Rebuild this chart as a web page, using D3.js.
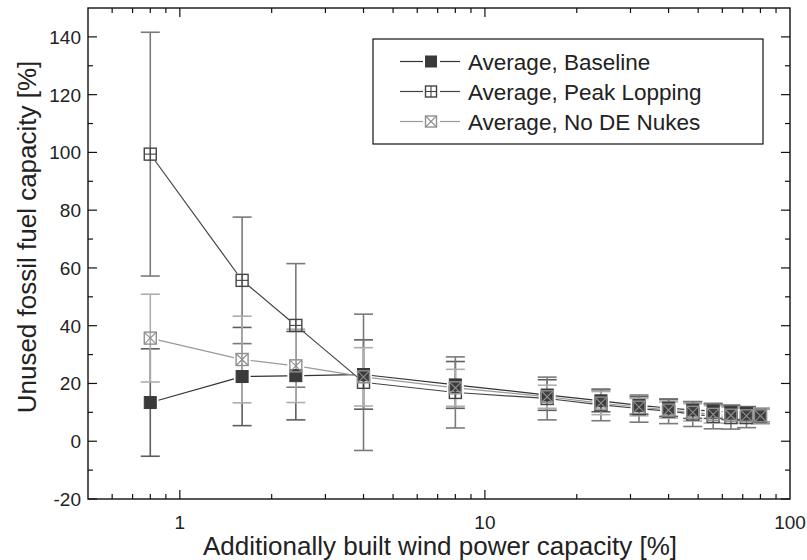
<!DOCTYPE html>
<html><head><meta charset="utf-8">
<script src="https://cdn.jsdelivr.net/npm/d3@7"></script>
<style>body{margin:0;background:#fff}svg{display:block}text{font-family:"Liberation Sans",Arial,sans-serif;fill:#222}</style>
</head><body><svg id="c" width="807" height="560"></svg>
<script>
const xVals = [0.8, 1.6, 2.4, 4, 8, 16, 24, 32, 40, 48, 56, 64, 72, 80];
const baseline    = [13.4, 22.4, 22.7, 23.1, 19.5, 16.0, 14.0, 12.4, 11.5, 10.8, 10.5, 10.0, 9.6, 9.0];
const baselineErr = [18.6, 17.0, 15.3, 12.0, 8.1, 5.3, 3.8, 3.0, 2.9, 2.9, 2.6, 2.5, 2.4, 2.4];
const peak        = [99.4, 55.7, 40.1, 20.4, 16.9, 14.8, 12.6, 11.3, 10.4, 9.4, 8.6, 8.2, 8.2, 8.6];
const peakErr     = [42.2, 21.9, 21.4, 23.6, 12.3, 7.4, 5.5, 4.7, 4.3, 4.3, 4.3, 4.0, 3.5, 2.5];
const nukes       = [35.7, 28.3, 26.1, 22.3, 18.5, 15.4, 13.2, 11.8, 10.8, 10.0, 9.3, 9.0, 8.8, 8.8];
const nukesErr    = [15.2, 15.0, 12.7, 10.1, 6.4, 4.0, 4.0, 3.0, 2.8, 3.0, 3.0, 2.8, 2.6, 2.4];
const seriesNames = ["Average, Baseline", "Average, Peak Lopping", "Average, No DE Nukes"];
const xTickLabels = [1, 10, 100];
const yTickLabels = [-20, 0, 20, 40, 60, 80, 100, 120, 140];

const svg = d3.select("#c");
const L = 88, R = 790, T = 8, B = 499;
const x = d3.scaleLog().domain([0.5, 100]).range([L, R]);
const y = d3.scaleLinear().domain([-20, 150]).range([B, T]);

const series = [
  {name: seriesNames[0], vals: baseline, err: baselineErr, line: "#333", errc: "#5e5e5e", mark: "fill"},
  {name: seriesNames[1], vals: peak, err: peakErr, line: "#444", errc: "#7a7a7a", mark: "plus"},
  {name: seriesNames[2], vals: nukes, err: nukesErr, line: "#9a9a9a", errc: "#adadad", mark: "cross"}
];

const minorX = [];
[0.1, 1, 10].forEach(d => { for (let k = 2; k <= 9; k++) { const v = d * k; if (v > 0.5 && v < 100) minorX.push(v); } });
const minorY = d3.range(-10, 150, 20);

const g = svg.append("g");
function tickLines(vals, len, side) {
  vals.forEach(v => {
    if (side === "b") g.append("line").attr("x1", x(v)).attr("x2", x(v)).attr("y1", B).attr("y2", B - len);
    if (side === "t") g.append("line").attr("x1", x(v)).attr("x2", x(v)).attr("y1", T).attr("y2", T + len);
    if (side === "l") g.append("line").attr("x1", L).attr("x2", L + len).attr("y1", y(v)).attr("y2", y(v));
    if (side === "r") g.append("line").attr("x1", R).attr("x2", R - len).attr("y1", y(v)).attr("y2", y(v));
  });
}
tickLines(xTickLabels.filter(v => v < 100), 9, "b");
tickLines(xTickLabels.filter(v => v < 100), 9, "t");
tickLines(minorX, 5, "b"); tickLines(minorX, 5, "t");
tickLines(yTickLabels, 9, "l"); tickLines(yTickLabels, 9, "r");
tickLines(minorY, 5, "l"); tickLines(minorY, 5, "r");
g.selectAll("line").attr("stroke", "#111").attr("stroke-width", 1.2);
svg.append("rect").attr("x", L).attr("y", T).attr("width", R - L).attr("height", B - T)
  .attr("fill", "none").attr("stroke", "#111").attr("stroke-width", 1.4);

svg.selectAll(".xl").data(xTickLabels).join("text").attr("x", d => x(d)).attr("y", 529)
  .attr("text-anchor", "middle").attr("font-size", 19).text(d => d);
svg.selectAll(".yl").data(yTickLabels).join("text").attr("x", 81).attr("y", d => y(d) + 7)
  .attr("text-anchor", "end").attr("font-size", 19).text(d => d);
svg.append("text").attr("x", 440).attr("y", 555).attr("text-anchor", "middle").attr("font-size", 26)
  .text("Additionally built wind power capacity [%]");
svg.append("text").attr("transform", `translate(36,237) rotate(-90)`).attr("text-anchor", "middle")
  .attr("font-size", 26).text("Unused fossil fuel capacity [%]");

function marker(sel, type, cx, cy, color, r) {
  const m = sel.append("g").attr("transform", `translate(${cx},${cy})`);
  if (type === "fill") {
    m.append("rect").attr("x", -r).attr("y", -r).attr("width", 2 * r).attr("height", 2 * r)
      .attr("fill", "#3a3a3a").attr("stroke", "#3a3a3a").attr("stroke-width", 1);
  } else {
    m.append("rect").attr("x", -r).attr("y", -r).attr("width", 2 * r).attr("height", 2 * r)
      .attr("fill", "none").attr("stroke", color).attr("stroke-width", 1.4);
    if (type === "plus") {
      m.append("line").attr("x1", -r).attr("x2", r).attr("y1", 0).attr("y2", 0).attr("stroke", color).attr("stroke-width", 1.1);
      m.append("line").attr("y1", -r).attr("y2", r).attr("x1", 0).attr("x2", 0).attr("stroke", color).attr("stroke-width", 1.1);
    } else {
      m.append("line").attr("x1", -r).attr("x2", r).attr("y1", -r).attr("y2", r).attr("stroke", color).attr("stroke-width", 1.1);
      m.append("line").attr("x1", -r).attr("x2", r).attr("y1", r).attr("y2", -r).attr("stroke", color).attr("stroke-width", 1.1);
    }
  }
}

const plot = svg.append("g");
const gap = 8.5;
series.forEach(s => {
  const eg = plot.append("g").attr("stroke", s.errc).attr("stroke-width", 1.6);
  xVals.forEach((xv, i) => {
    const px = x(xv), top = y(s.vals[i] + s.err[i]), bot = y(s.vals[i] - s.err[i]);
    eg.append("line").attr("x1", px).attr("x2", px).attr("y1", top).attr("y2", bot);
    eg.append("line").attr("x1", px - 9.5).attr("x2", px + 9.5).attr("y1", top).attr("y2", top);
    eg.append("line").attr("x1", px - 9.5).attr("x2", px + 9.5).attr("y1", bot).attr("y2", bot);
  });
});
series.forEach(s => {
  const lg = plot.append("g").attr("stroke", s.line).attr("stroke-width", 1.2);
  for (let i = 0; i < xVals.length - 1; i++) {
    const x1 = x(xVals[i]), y1 = y(s.vals[i]), x2 = x(xVals[i + 1]), y2 = y(s.vals[i + 1]);
    const dx = x2 - x1, dy = y2 - y1, len = Math.hypot(dx, dy);
    if (len <= 2 * gap) continue;
    const ux = dx / len, uy = dy / len;
    lg.append("line").attr("x1", x1 + ux * gap).attr("y1", y1 + uy * gap)
      .attr("x2", x2 - ux * gap).attr("y2", y2 - uy * gap);
  }
});
series.forEach(s => {
  xVals.forEach((xv, i) => marker(plot, s.mark, x(xv), y(s.vals[i]), s.mark === "plus" ? "#444" : "#8f8f8f", 6));
});

// legend
const lgX = 373, lgY = 39, lgW = 390, lgH = 105;
svg.append("rect").attr("x", lgX).attr("y", lgY).attr("width", lgW).attr("height", lgH)
  .attr("fill", "#fff").attr("stroke", "#111").attr("stroke-width", 1.2);
const rowY = d3.scaleLinear().domain([0, 2]).range([61.5, 121.5]);
series.forEach((s, i) => {
  const cy = rowY(i);
  svg.append("line").attr("x1", 400).attr("x2", 423).attr("y1", cy).attr("y2", cy).attr("stroke", s.line).attr("stroke-width", 1.2);
  svg.append("line").attr("x1", 440).attr("x2", 460).attr("y1", cy).attr("y2", cy).attr("stroke", s.line).attr("stroke-width", 1.2);
  marker(svg, s.mark, 431, cy, s.mark === "plus" ? "#444" : "#8f8f8f", 5.5);
  svg.append("text").attr("x", 468).attr("y", cy + 8).attr("font-size", 22.5).text(s.name);
});
</script></body></html>
